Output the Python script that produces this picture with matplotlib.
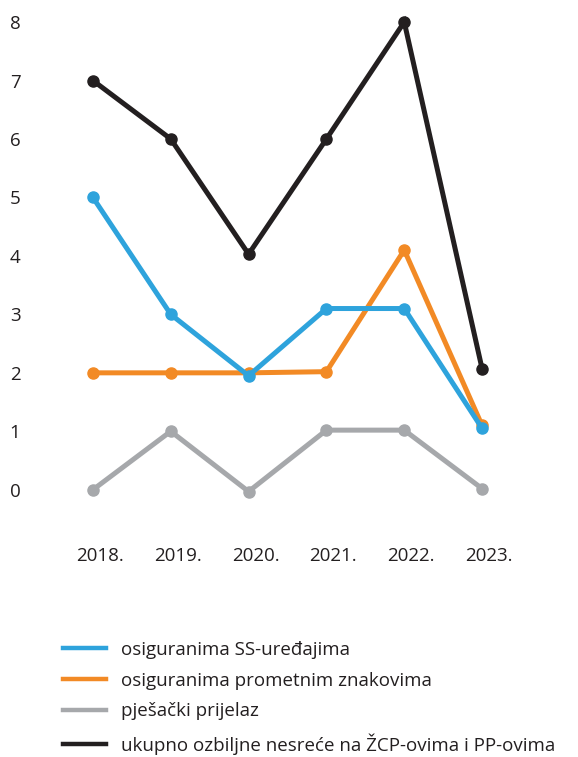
import matplotlib
matplotlib.use("Agg")
import matplotlib.pyplot as plt
from matplotlib.transforms import ScaledTranslation

years = ["2018.", "2019.", "2020.", "2021.", "2022.", "2023."]
ss_uredaji = [5.0, 3.0, 1.95, 3.1, 3.1, 1.05]
prometni_znakovi = [2.0, 2.0, 2.0, 2.02, 4.1, 1.1]
pjesacki = [0.0, 1.0, -0.03, 1.02, 1.02, 0.02]
ukupno = [7.0, 6.0, 4.03, 6.0, 8.0, 2.07]

labels = ["osiguranima SS-uređajima", "osiguranima prometnim znakovima",
          "pješački prijelaz", "ukupno ozbiljne nesreće na ŽCP-ovima i PP-ovima"]
colors = ["#2ea3dc", "#f28a25", "#a6a8ab", "#231f20"]
text_color = "#231f20"

plt.rcParams['font.family'] = ['Open Sans', 'DejaVu Sans']

W, H = 578, 757
fig = plt.figure(figsize=(W / 100, H / 100), dpi=100)
ax = fig.add_axes([54 / W, (H - 519) / H, 467 / W, (519 - 4.5) / H])

x = list(range(len(years)))
series = [ss_uredaji, prometni_znakovi, pjesacki, ukupno]
zorder = [3, 2, 1, 4]
for vals, c, lab, z in zip(series, colors, labels, zorder):
    ax.plot(x, vals, color=c, lw=3.6, marker='o', ms=8, label=lab, zorder=z,
            solid_joinstyle='miter')

ax.set_xlim(-0.5, 5.5)
ax.set_ylim(-0.5, 8.3)
ax.set_yticks(range(0, 9))
ax.set_xticks(x)
ax.set_xticklabels(years)
for s in ax.spines.values():
    s.set_visible(False)
ax.tick_params(axis='both', length=0, labelsize=13.5, colors=text_color)
ax.tick_params(axis='y', pad=28)
ax.tick_params(axis='x', pad=20)
for t in ax.get_yticklabels():
    t.set_horizontalalignment('center')
shift = ScaledTranslation(7 / 100, 0, fig.dpi_scale_trans)
for t in ax.get_xticklabels():
    t.set_transform(t.get_transform() + shift)

handles = [plt.Line2D([0], [0], color=c, lw=3.2) for c in colors]
leg = fig.legend(handles, labels, loc='upper left', bbox_to_anchor=(63 / W, 1 - 641 / H),
                 frameon=False, fontsize=13.5, handlelength=2.3, handletextpad=0.8,
                 labelspacing=0.68, borderpad=0, borderaxespad=0)
for t in leg.get_texts():
    t.set_color(text_color)

fig.savefig("out.png", dpi=100)
